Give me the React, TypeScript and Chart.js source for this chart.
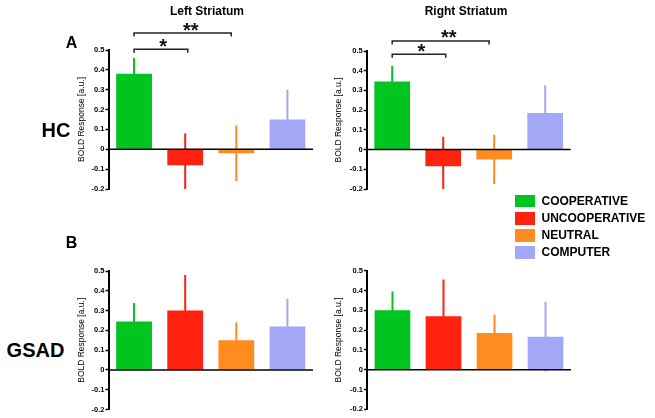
import React, { useEffect, useRef } from 'react';
import { Chart, registerables } from 'chart.js';
Chart.register(...registerables);

const FONT = '"Liberation Sans", Arial, Helvetica, sans-serif';

const categories = ['COOPERATIVE', 'UNCOOPERATIVE', 'NEUTRAL', 'COMPUTER'];
const colors = ['#00c41f', '#ff2211', '#ff8c1e', '#a3a8f6'];
const yTicks = [-0.2, -0.1, 0, 0.1, 0.2, 0.3, 0.4, 0.5];
const yTitle = 'BOLD Response [a.u.]';

const hcLeftMean = [0.38, -0.08, -0.02, 0.15];
const hcLeftErr = [0.08, 0.16, 0.14, 0.15];
const hcRightMean = [0.345, -0.085, -0.05, 0.186];
const hcRightErr = [0.08, 0.15, 0.125, 0.14];
const gsadLeftMean = [0.245, 0.3, 0.15, 0.22];
const gsadLeftErr = [0.093, 0.18, 0.09, 0.14];
const gsadRightMean = [0.3, 0.27, 0.185, 0.167];
const gsadRightErr = [0.095, 0.185, 0.093, 0.176];

const sigLabels = ['*', '**'];
const sigFrom = [0, 0];
const sigTo = [1.05, 1.9];
const sigLabelAt = [0.57, 1.11];
const hcLeftSigLevel = [0.504, 0.585];
const hcRightSigLevel = [0.483, 0.551];

type PanelProps = {
  mean: number[];
  err: number[];
  sigLevel?: number[];
  left: number;
  top: number;
  width: number;
  height: number;
  pad: { left: number; top: number; right: number; bottom: number };
  axisWidth: number;
  titlePad: number;
};

function Panel(p: PanelProps) {
  const ref = useRef<HTMLCanvasElement | null>(null);
  useEffect(() => {
    if (!ref.current) return;
    const errorBars = {
      id: 'errorBars',
      beforeDatasetsDraw(chart: any) {
        const { ctx, chartArea, scales } = chart;
        const x = scales.x;
        const y = scales.y;
        ctx.save();
        ctx.beginPath();
        ctx.rect(chartArea.left, 0, chartArea.right - chartArea.left, chartArea.bottom);
        ctx.clip();
        p.mean.forEach((v, i) => {
          const px = x.getPixelForValue(i);
          ctx.beginPath();
          ctx.strokeStyle = colors[i];
          ctx.lineWidth = 2;
          ctx.moveTo(px, y.getPixelForValue(v + p.err[i]));
          ctx.lineTo(px, y.getPixelForValue(v - p.err[i]));
          ctx.stroke();
        });
        ctx.restore();
      },
    };
    const overlay = {
      id: 'overlay',
      afterDatasetsDraw(chart: any) {
        const { ctx, scales, chartArea } = chart;
        const x = scales.x;
        const y = scales.y;
        ctx.save();
        // zero line drawn over the bars
        const y0 = y.getPixelForValue(0);
        ctx.beginPath();
        ctx.strokeStyle = '#000';
        ctx.lineWidth = 1.5;
        ctx.moveTo(chartArea.left, y0);
        ctx.lineTo(chartArea.right, y0);
        ctx.stroke();
        if (p.sigLevel) {
          sigLabels.forEach((lab, i) => {
            const x0 = x.getPixelForValue(sigFrom[i]);
            const x1 = x.getPixelForValue(sigTo[i]);
            const yy = y.getPixelForValue(p.sigLevel![i]);
            ctx.beginPath();
            ctx.strokeStyle = '#222';
            ctx.lineWidth = 1.5;
            ctx.moveTo(x0, yy + 3.5);
            ctx.lineTo(x0, yy);
            ctx.lineTo(x1, yy);
            ctx.lineTo(x1, yy + 3.5);
            ctx.stroke();
            ctx.fillStyle = '#111';
            ctx.font = 'bold 20px ' + FONT;
            ctx.textAlign = 'center';
            ctx.textBaseline = 'alphabetic';
            ctx.fillText(lab, x.getPixelForValue(sigLabelAt[i]), yy + 3.5);
          });
        }
        ctx.restore();
      },
    };
    const chart = new Chart(ref.current, {
      type: 'bar',
      data: {
        labels: categories,
        datasets: [
          {
            data: p.mean,
            backgroundColor: colors,
            borderWidth: 0,
            categoryPercentage: 1,
            barPercentage: 0.7,
          },
        ],
      },
      options: {
        responsive: false,
        maintainAspectRatio: false,
        animation: false,
        layout: { padding: p.pad },
        plugins: { legend: { display: false }, tooltip: { enabled: false } },
        scales: {
          x: { display: false },
          y: {
            min: -0.2,
            max: 0.5,
            afterFit: (s: any) => {
              s.width = p.axisWidth;
            },
            afterBuildTicks: (s: any) => {
              s.ticks = yTicks.map((v) => ({ value: v }));
            },
            ticks: {
              color: '#000',
              padding: 1,
              font: { family: FONT, size: 7.5, weight: 'bold' },
              callback: (v: any) => String(Number(Number(v).toFixed(1))),
            },
            border: { display: true, color: '#000', width: 2 },
            grid: {
              drawOnChartArea: false,
              drawTicks: true,
              tickLength: 3,
              tickWidth: 1.5,
              tickColor: '#000',
              color: 'rgba(0,0,0,0)',
            },
            title: {
              display: true,
              text: yTitle,
              color: '#000',
              font: { family: FONT, size: 8.5 },
              padding: { top: p.titlePad, bottom: 0 },
            },
          },
        },
      },
      plugins: [errorBars, overlay],
    } as any);
    return () => chart.destroy();
  }, []);
  return (
    <canvas
      ref={ref}
      width={p.width}
      height={p.height}
      style={{ position: 'absolute', left: p.left, top: p.top, width: p.width, height: p.height, display: 'block' }}
    />
  );
}

function Label(props: { text: string; x: number; y: number; size: number; weight?: string }) {
  return (
    <div
      style={{
        position: 'absolute',
        left: props.x,
        top: props.y,
        transform: 'translate(-50%, -50%)',
        fontFamily: FONT,
        fontWeight: (props.weight || 'bold') as any,
        fontSize: props.size,
        lineHeight: props.size + 'px',
        whiteSpace: 'nowrap',
        color: '#000',
      }}
    >
      {props.text}
    </div>
  );
}

const legendY = [200.5, 218, 235, 252];

export default function App() {
  return (
    <div style={{ position: 'absolute', left: 0, top: 0, width: 655, height: 418, background: '#fff', overflow: 'hidden' }}>
      <Panel mean={hcLeftMean} err={hcLeftErr} sigLevel={hcLeftSigLevel} left={70} top={0} width={250} height={200}
        pad={{ left: 0, top: 50, right: 7, bottom: 11 }} axisWidth={38.5} titlePad={6.6} />
      <Panel mean={hcRightMean} err={hcRightErr} sigLevel={hcRightSigLevel} left={328} top={0} width={250} height={200}
        pad={{ left: 0, top: 51, right: 7.3, bottom: 11 }} axisWidth={38.7} titlePad={5.9} />
      <Panel mean={gsadLeftMean} err={gsadLeftErr} left={70} top={210} width={250} height={208}
        pad={{ left: 0, top: 61, right: 7, bottom: 8.5 }} axisWidth={38.5} titlePad={6.6} />
      <Panel mean={gsadRightMean} err={gsadRightErr} left={328} top={210} width={250} height={208}
        pad={{ left: 0, top: 60.7, right: 7, bottom: 8.7 }} axisWidth={39} titlePad={5.9} />

      <Label text="Left Striatum" x={207} y={11} size={12} />
      <Label text="Right Striatum" x={466} y={11} size={12} />
      <Label text="A" x={71.5} y={43} size={16} />
      <Label text="HC" x={56} y={130} size={20} />
      <Label text="B" x={71.5} y={242.5} size={16} />
      <Label text="GSAD" x={35.5} y={350} size={20} />

      {categories.map((c, i) => (
        <React.Fragment key={c}>
          <div style={{ position: 'absolute', left: 515, top: legendY[i] - 6, width: 19.5, height: 12.5, background: colors[i] }} />
          <div
            style={{
              position: 'absolute',
              left: 541.5,
              top: legendY[i] - 6,
              fontFamily: FONT,
              fontWeight: 'bold',
              fontSize: 12,
              lineHeight: '12px',
              whiteSpace: 'nowrap',
              color: '#000',
            }}
          >
            {c}
          </div>
        </React.Fragment>
      ))}
    </div>
  );
}
